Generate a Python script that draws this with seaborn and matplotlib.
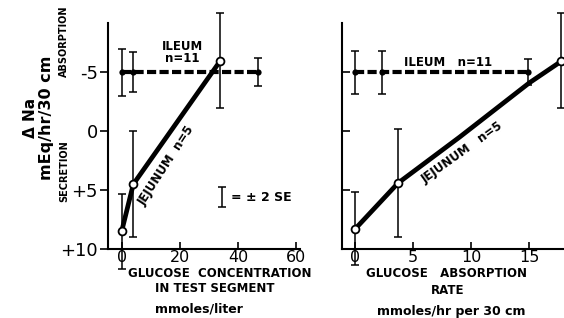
import matplotlib
matplotlib.use("Agg")
import matplotlib.pyplot as plt
import seaborn as sns

# left panel: glucose concentration (mmoles/liter)
jej_conc = [0, 4, 34]
jej_conc_na = [8.5, 4.5, -6.0]
jej_conc_err = [3.2, 4.5, 4.0]
ile_conc = [0, 4, 47]
ile_conc_na = [-5, -5, -5]
ile_conc_err = [2.0, 1.7, 1.2]

# right panel: glucose absorption rate (mmoles/hr per 30 cm)
jej_rate = [0, 3.7, 17.7]
jej_rate_na = [8.3, 4.4, -6.0]
jej_rate_err = [3.1, 4.6, 4.05]
jej_curve_rate = [0, 3.7, 9, 15, 17.7]
jej_curve_na = [8.3, 4.4, 0.5, -4.1, -5.9]
ile_rate = [0, 2.3, 14.9]
ile_rate_na = [-5, -5, -5]
ile_rate_err = [1.8, 1.8, 1.1]

left_xticks = [0, 20, 40, 60]
right_xticks = [0, 5, 10, 15]
yticks = [-5, 0, 5, 10]
ytick_labels = ["-5", "0", "+5", "+10"]

sns.set_style("ticks", {"text.color": "black", "xtick.color": "black",
                        "ytick.color": "black", "axes.labelcolor": "black"})
plt.rcParams["font.family"] = ["DejaVu Sans"]

fig = plt.figure(figsize=(5.64, 3.18), dpi=100)
ax1 = fig.add_axes([0.191, 0.217, 0.341, 0.711])
ax2 = fig.add_axes([0.606, 0.217, 0.394, 0.711])


def errbars(ax, x, y, err):
    c = ax.errorbar(x, y, yerr=err, fmt="none", ecolor="black",
                    elinewidth=1.1, capsize=3, capthick=1.1, zorder=2)
    for art in list(c.lines[1]) + list(c.lines[2]):
        art.set_clip_on(False)


def style_axes(ax):
    for side in ["top", "right"]:
        ax.spines[side].set_visible(False)
    for side in ["left", "bottom"]:
        ax.spines[side].set_linewidth(1.5)
        ax.spines[side].set_color("black")
    ax.set_ylim(10, -9.2)
    ax.set_xlabel("")
    ax.set_ylabel("")


# ---- left panel
sns.lineplot(x=ile_conc, y=ile_conc_na, ax=ax1, color="black", lw=3,
             linestyle=(0, (2.2, 0.8)), marker="o", markersize=4.5,
             markeredgewidth=0, estimator=None, sort=False, zorder=3)
sns.lineplot(x=jej_conc, y=jej_conc_na, ax=ax1, color="black", lw=3.4,
             estimator=None, sort=False, zorder=3)
sns.scatterplot(x=jej_conc, y=jej_conc_na, ax=ax1, s=32, facecolor="white",
                edgecolor="black", linewidth=1.3, zorder=4, clip_on=False)
errbars(ax1, ile_conc, ile_conc_na, ile_conc_err)
errbars(ax1, jej_conc, jej_conc_na, jej_conc_err)
# legend bar
errbars(ax1, [34.5], [5.6], [0.85])
ax1.text(37.5, 5.6, "= ± 2 SE", fontsize=9, fontweight="bold", va="center", ha="left")

ax1.text(21, -7.2, "ILEUM", fontsize=8.5, fontweight="bold", ha="center", va="center")
ax1.text(21, -6.2, "n=11", fontsize=8.5, fontweight="bold", ha="center", va="center")
ax1.text(15.5, 2.9, "JEJUNUM  n=5", fontsize=8.5, fontweight="bold", rotation=57,
         ha="center", va="center", rotation_mode="anchor")

style_axes(ax1)
ax1.set_xlim(-4.8, 61.4)
ax1.set_xticks(left_xticks)
ax1.set_xticklabels([str(t) for t in left_xticks])
ax1.set_yticks(yticks)
ax1.set_yticklabels(ytick_labels)
ax1.tick_params(axis="x", direction="in", length=5, width=1.2, labelsize=11.5, pad=1)
ax1.tick_params(axis="y", direction="out", length=6, width=1.2, labelsize=13, pad=1)

# ---- right panel
sns.lineplot(x=ile_rate, y=ile_rate_na, ax=ax2, color="black", lw=3,
             linestyle=(0, (2.2, 0.8)), marker="o", markersize=4.5,
             markeredgewidth=0, estimator=None, sort=False, zorder=3)
sns.lineplot(x=jej_curve_rate, y=jej_curve_na, ax=ax2, color="black", lw=3.4,
             estimator=None, sort=False, zorder=3)
sns.scatterplot(x=jej_rate, y=jej_rate_na, ax=ax2, s=32, facecolor="white",
                edgecolor="black", linewidth=1.3, zorder=4, clip_on=False)
errbars(ax2, ile_rate, ile_rate_na, ile_rate_err)
errbars(ax2, jej_rate, jej_rate_na, jej_rate_err)

ax2.text(8.0, -5.85, "ILEUM   n=11", fontsize=8.5, fontweight="bold", ha="center", va="center")
ax2.text(9.2, 1.8, "JEJUNUM   n=5", fontsize=8.5, fontweight="bold", rotation=35.5,
         ha="center", va="center", rotation_mode="anchor")

style_axes(ax2)
ax2.set_xlim(-1.15, 18.0)
ax2.set_xticks(right_xticks)
ax2.set_xticklabels([str(t) for t in right_xticks])
ax2.set_yticks([-5, 0, 5])
ax2.set_yticklabels([])
ax2.tick_params(axis="x", direction="in", length=5, width=1.2, labelsize=11.5, pad=1)
ax2.tick_params(axis="y", direction="in", length=6, width=1.2)

# ---- axis titles
fig.text(0.054, 0.63, "Δ Na", rotation=90, fontsize=11, fontweight="bold", ha="center", va="center")
fig.text(0.082, 0.63, "mEq/hr/30 cm", rotation=90, fontsize=11.5, fontweight="bold", ha="center", va="center")
fig.text(0.114, 0.871, "ABSORPTION", rotation=90, fontsize=7, fontweight="bold", ha="center", va="center")
fig.text(0.114, 0.462, "SECRETION", rotation=90, fontsize=7, fontweight="bold", ha="center", va="center")

fig.text(0.390, 0.140, "GLUCOSE  CONCENTRATION", fontsize=8.5, fontweight="bold", ha="center", va="center")
fig.text(0.381, 0.094, "IN TEST SEGMENT", fontsize=8.5, fontweight="bold", ha="center", va="center")
fig.text(0.353, 0.028, "mmoles/liter", fontsize=9, fontweight="bold", ha="center", va="center")

fig.text(0.791, 0.140, "GLUCOSE   ABSORPTION", fontsize=8.5, fontweight="bold", ha="center", va="center")
fig.text(0.794, 0.088, "RATE", fontsize=8.5, fontweight="bold", ha="center", va="center")
fig.text(0.800, 0.022, "mmoles/hr per 30 cm", fontsize=9, fontweight="bold", ha="center", va="center")

fig.savefig("out.png", dpi=100)
